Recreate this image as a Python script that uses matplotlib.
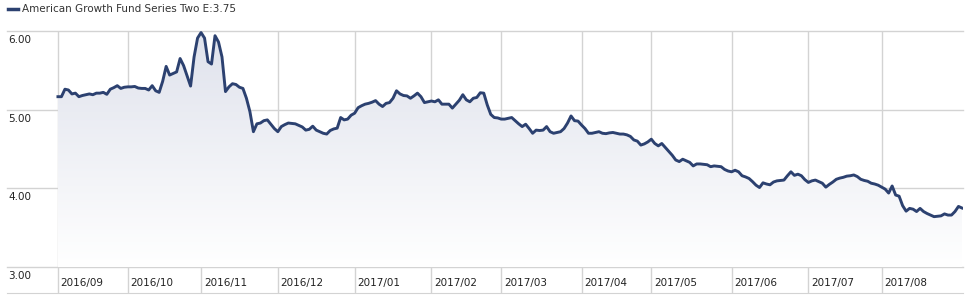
import numpy as np
import matplotlib
matplotlib.use("Agg")
import matplotlib.pyplot as plt
from matplotlib.colors import LinearSegmentedColormap
from matplotlib.transforms import blended_transform_factory

# fund label shown in the legend
fund_name = "American Growth Fund Series Two E"
latest_nav = 3.75

# month labels (one per gridline)
months = ["2016/09", "2016/10", "2016/11", "2016/12", "2017/01", "2017/02",
          "2017/03", "2017/04", "2017/05", "2017/06", "2017/07", "2017/08"]

# daily NAV, one list per month
nav_2016_09 = [5.165, 5.165, 5.26, 5.25, 5.20, 5.21, 5.165, 5.18, 5.19, 5.20,
               5.19, 5.21, 5.21, 5.22, 5.195, 5.26, 5.28, 5.305, 5.27, 5.285]
nav_2016_10 = [5.29, 5.29, 5.295, 5.275, 5.27, 5.27, 5.25, 5.305, 5.24, 5.22,
               5.36, 5.55, 5.44, 5.46, 5.48, 5.65, 5.56, 5.43, 5.30, 5.67, 5.91]
nav_2016_11 = [5.98, 5.91, 5.61, 5.58, 5.94, 5.86, 5.67, 5.23, 5.29, 5.33,
               5.32, 5.285, 5.27, 5.145, 4.975, 4.72, 4.82, 4.83, 4.86, 4.87,
               4.815, 4.76]
nav_2016_12 = [4.72, 4.785, 4.81, 4.83, 4.825, 4.82, 4.80, 4.78, 4.74, 4.75,
               4.79, 4.74, 4.72, 4.70, 4.69, 4.735, 4.755, 4.765, 4.90, 4.87,
               4.88, 4.93]
nav_2017_01 = [4.955, 5.025, 5.05, 5.07, 5.08, 5.095, 5.115, 5.07, 5.04, 5.08,
               5.09, 5.145, 5.24, 5.20, 5.18, 5.175, 5.145, 5.175, 5.21, 5.165,
               5.09, 5.10]
nav_2017_02 = [5.11, 5.10, 5.125, 5.07, 5.07, 5.07, 5.02, 5.07, 5.12, 5.19,
               5.125, 5.10, 5.145, 5.155, 5.215, 5.21, 5.06, 4.94, 4.90, 4.895]
nav_2017_03 = [4.88, 4.88, 4.89, 4.90, 4.86, 4.82, 4.785, 4.815, 4.76, 4.70,
               4.74, 4.735, 4.74, 4.785, 4.72, 4.70, 4.71, 4.72, 4.76, 4.83,
               4.92, 4.86, 4.855]
nav_2017_04 = [4.805, 4.76, 4.70, 4.70, 4.71, 4.72, 4.70, 4.695, 4.705, 4.71,
               4.70, 4.69, 4.69, 4.68, 4.66, 4.615, 4.60, 4.55, 4.565, 4.59]
nav_2017_05 = [4.625, 4.57, 4.54, 4.57, 4.52, 4.47, 4.42, 4.36, 4.34, 4.37,
               4.35, 4.33, 4.285, 4.31, 4.31, 4.305, 4.30, 4.275, 4.285, 4.28,
               4.275, 4.24, 4.22]
nav_2017_06 = [4.21, 4.23, 4.21, 4.16, 4.145, 4.125, 4.085, 4.04, 4.01, 4.07,
               4.055, 4.045, 4.08, 4.095, 4.10, 4.105, 4.16, 4.21, 4.165, 4.18,
               4.16, 4.11]
nav_2017_07 = [4.075, 4.095, 4.105, 4.085, 4.065, 4.015, 4.05, 4.08, 4.115, 4.13,
               4.14, 4.155, 4.16, 4.17, 4.15, 4.115, 4.10, 4.09, 4.065, 4.055,
               4.04]
nav_2017_08 = [4.015, 3.99, 3.94, 4.03, 3.915, 3.90, 3.78, 3.71, 3.745, 3.735,
               3.705, 3.745, 3.705, 3.68, 3.66, 3.64, 3.645, 3.65, 3.675, 3.66,
               3.66, 3.705, 3.77, 3.75]

monthly = [nav_2016_09, nav_2016_10, nav_2016_11, nav_2016_12, nav_2017_01,
           nav_2017_02, nav_2017_03, nav_2017_04, nav_2017_05, nav_2017_06,
           nav_2017_07, nav_2017_08]

y_ticks = [3.0, 4.0, 5.0, 6.0]

nav = np.concatenate(monthly)
days = np.arange(len(nav))
month_starts = np.cumsum([0] + [len(m) for m in monthly[:-1]])

line_color = "#2c4170"
grid_color = "#d3d3d3"

W, H = 971, 295
fig = plt.figure(figsize=(W / 100, H / 100), dpi=100)

# axes in pixels: left 7, right 963, top 31, bottom 293
ax = fig.add_axes([7 / W, 2 / H, (963 - 7) / W, (293 - 31) / H])
data_left_px = 58
px_per_day = (963 - data_left_px) / (len(nav) - 1)
ax.set_xlim(-(data_left_px - 7) / px_per_day, len(nav) - 1 + 0.3)
ymax = 6.0
px_per_unit = (267 - 31) / 3.0
ax.set_ylim(ymax - (293 - 31) / px_per_unit, ymax)

for s in ["top", "right", "left"]:
    ax.spines[s].set_visible(False)
ax.spines["bottom"].set_color(grid_color)
ax.set_xticks([])
ax.set_yticks([])

# gridlines
for v in y_ticks:
    ax.axhline(v, color=grid_color, lw=1, zorder=0, clip_on=False)
for m in month_starts:
    ax.axvline(m, color=grid_color, lw=1, zorder=0)

# gradient area under the line
cmap = LinearSegmentedColormap.from_list("fade", ["#ffffff", "#dfe2ec"])
grad = np.linspace(0, 1, 256).reshape(-1, 1)
img = ax.imshow(grad, cmap=cmap, aspect="auto", origin="lower",
                extent=[0, len(nav) - 1, 3.0, ymax], zorder=1)
poly = ax.fill_between(days, nav, 3.0, color="none", lw=0)
img.set_clip_path(poly.get_paths()[0], transform=ax.transData)

ax.plot(days, nav, color=line_color, lw=2.1, zorder=3, solid_joinstyle="round")

# y labels sit just under their gridlines, at the far left
trans_y = blended_transform_factory(ax.transAxes, ax.transData)
for v in y_ticks:
    ax.annotate(f"{v:.2f}", xy=(1 / (963 - 7), v), xycoords=trans_y,
                xytext=(0, -3), textcoords="offset points",
                ha="left", va="top", fontsize=7.5, color="#222222")

# month labels along the bottom strip
trans_x = blended_transform_factory(ax.transData, ax.transAxes)
for m, lab in zip(month_starts, months):
    ax.annotate(lab, xy=(m, 0.04), xycoords=trans_x,
                xytext=(2, 0), textcoords="offset points",
                ha="left", va="center", fontsize=7.5, color="#222222")

# legend at the top left
fig.add_artist(plt.Line2D([8 / W, 18 / W], [1 - 9 / H, 1 - 9 / H],
                          color=line_color, lw=2.5))
fig.text(22 / W, 1 - 9 / H, f"{fund_name}:{latest_nav:.2f}",
         ha="left", va="center", fontsize=7.5, color="#333333")

fig.savefig("out.png", dpi=100)
